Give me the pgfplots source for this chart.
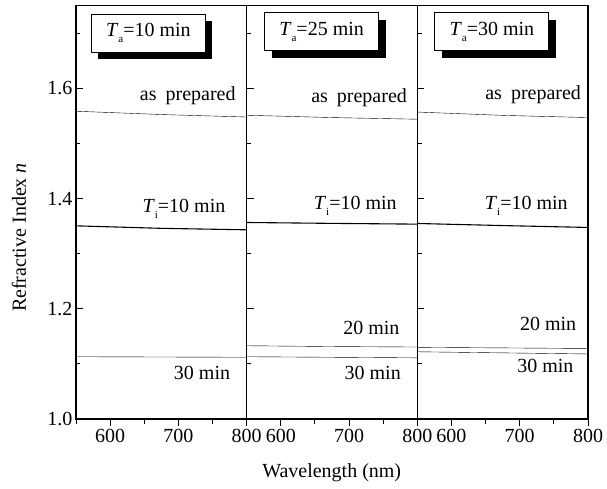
\documentclass[border=0pt]{standalone}
\usepackage{fontspec}
\setmainfont{Liberation Serif}
\newfontfamily\tnr{Liberation Serif}
\usepackage{pgfplots}
\pgfplotsset{compat=1.18}
\usetikzlibrary{shadows}
\newcommand\fs{\tnr\fontsize{20bp}{24bp}\selectfont}
\newcommand\sub[1]{\raisebox{-0.3em}{\tnr\fontsize{11bp}{11bp}\selectfont #1}}
\pgfplotsset{
  panel/.style={
    scale only axis, width=170.67bp, height=413.3bp,
    xmin=550, xmax=800, ymin=1, ymax=1.75,
    xtick={600,700,800}, minor xtick={550,650,750},
    ytick={1.0,1.2,1.4,1.6}, minor ytick={1.1,1.3,1.5,1.7},
    xtick pos=bottom, ytick pos=left,
    xtick align=outside, ytick align=inside,
    major tick length=7bp, minor tick length=4.5bp,
    axis line style={line width=1.1pt},
    tick style={line width=1pt, black},
    ticklabel style={font=\fs},
    /pgf/number format/assume math mode=true,
    yticklabel style={/pgf/number format/fixed, /pgf/number format/fixed zerofill, /pgf/number format/precision=1},
    xticklabel style={/pgf/number format/1000 sep={}},
    cycle list={{black, line width=1.1pt, mark=none}},
    clip=false,
  },
}
\tikzset{
  tbox/.style={draw=black, fill=white, line width=0.9pt, minimum width=114bp, minimum height=38bp, inner sep=0pt, font=\fs,
    drop shadow={shadow xshift=7bp, shadow yshift=-7bp, fill=black, opacity=1}},
  lab/.style={anchor=base east, font=\fs, inner sep=0pt},
}
\begin{document}
\begin{tikzpicture}
% Panel 1
\begin{axis}[panel, at={(0bp,0bp)}]
\addplot coordinates {(550,1.5585) (675,1.5525) (800,1.548)};
\addplot coordinates {(550,1.3505) (675,1.3460) (800,1.3433)};
\addplot coordinates {(550,1.1130) (675,1.1125) (800,1.1120)};
\node[tbox] at (rel axis cs:0.424,0.9335) {\textit{T}\sub{a}=10 min};
\node[lab] at (axis cs:784,1.5787) {as\hspace{0.45em}prepared};
\node[lab] at (axis cs:769,1.3750) {\textit{T}\sub{i}=10 min};
\node[lab] at (axis cs:776,1.0708) {30 min};
\end{axis}
% Panel 2
\begin{axis}[panel, at={(170.67bp,0bp)}, yticklabels={}]
\addplot coordinates {(550,1.5512) (675,1.5470) (800,1.5440)};
\addplot coordinates {(550,1.3566) (675,1.3550) (800,1.3536)};
\addplot coordinates {(550,1.1329) (675,1.1315) (800,1.1306)};
\addplot coordinates {(550,1.1130) (675,1.1120) (800,1.1110)};
\node[tbox] at (rel axis cs:0.439,0.937) {\textit{T}\sub{a}=25 min};
\node[lab] at (axis cs:785,1.5740) {as\hspace{0.45em}prepared};
\node[lab] at (axis cs:770,1.3804) {\textit{T}\sub{i}=10 min};
\node[lab] at (axis cs:774,1.1536) {20 min};
\node[lab] at (axis cs:776,1.0708) {30 min};
\end{axis}
% Panel 3
\begin{axis}[panel, at={(341.33bp,0bp)}, yticklabels={}]
\addplot coordinates {(550,1.5570) (675,1.5510) (800,1.5470)};
\addplot coordinates {(550,1.3548) (675,1.3510) (800,1.3476)};
\addplot coordinates {(550,1.1300) (675,1.1290) (800,1.1280)};
\addplot coordinates {(550,1.1220) (675,1.1200) (800,1.1180)};
\node[tbox] at (rel axis cs:0.437,0.937) {\textit{T}\sub{a}=30 min};
\node[lab] at (axis cs:790,1.5806) {as\hspace{0.45em}prepared};
\node[lab] at (axis cs:770.5,1.3804) {\textit{T}\sub{i}=10 min};
\node[lab] at (axis cs:783,1.1597) {20 min};
\node[lab] at (axis cs:779,1.0847) {30 min};
\end{axis}
\node[rotate=90, font=\fs] at (-57bp,181.5bp) {Refractive Index \textit{n}};
\node[font=\fs] at (255.7bp,-54bp) {Wavelength (nm)};
\pgfresetboundingbox
\path[use as bounding box] (-76bp,-70bp) rectangle (531bp,419bp);
\end{tikzpicture}
\end{document}
